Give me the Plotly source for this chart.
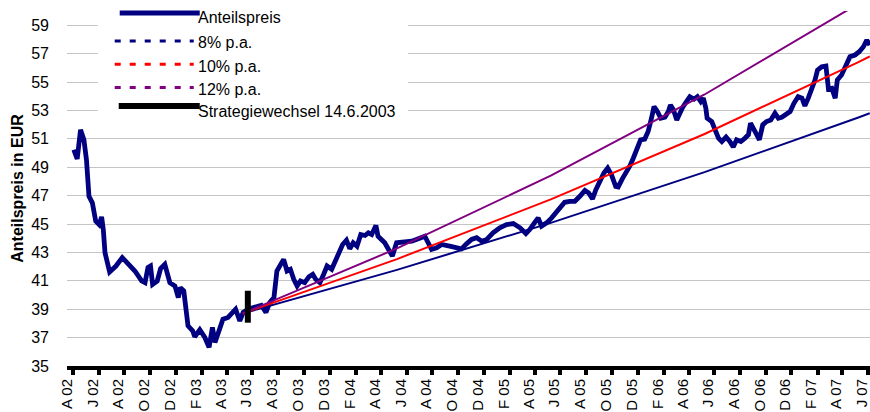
import plotly.graph_objects as go
from datetime import date, timedelta

# ---------------- data ----------------
price_dates = [
    "2002-04-17", "2002-04-25", "2002-05-03", "2002-05-11", "2002-05-17", "2002-05-23", "2002-05-31",
    "2002-06-08", "2002-06-16", "2002-06-22", "2002-06-26", "2002-06-30", "2002-07-11", "2002-07-26",
    "2002-08-10", "2002-08-24", "2002-09-09", "2002-09-25", "2002-10-03", "2002-10-10", "2002-10-16",
    "2002-10-21", "2002-11-01", "2002-11-09", "2002-11-19", "2002-12-01", "2002-12-13", "2002-12-21",
    "2002-12-26", "2003-01-03", "2003-01-13", "2003-01-24", "2003-01-29", "2003-02-10", "2003-02-22",
    "2003-03-04", "2003-03-12", "2003-03-18", "2003-03-28", "2003-04-06", "2003-04-18", "2003-04-26",
    "2003-05-06", "2003-05-16", "2003-05-24", "2003-06-05", "2003-06-25", "2003-07-06", "2003-07-17",
    "2003-07-26", "2003-08-05", "2003-08-12", "2003-08-21", "2003-08-28", "2003-09-05", "2003-09-13",
    "2003-09-21", "2003-09-29", "2003-10-07", "2003-10-17", "2003-10-27", "2003-11-05", "2003-11-12",
    "2003-11-22", "2003-12-01", "2003-12-09", "2003-12-20", "2003-12-27", "2004-01-07", "2004-01-15",
    "2004-01-24", "2004-02-01", "2004-02-09", "2004-02-18", "2004-02-27", "2004-03-08", "2004-03-16",
    "2004-03-24", "2004-04-03", "2004-04-08", "2004-04-16", "2004-04-24", "2004-05-02", "2004-05-12",
    "2004-05-22", "2004-06-03", "2004-06-15", "2004-06-27", "2004-07-08", "2004-07-18", "2004-07-28",
    "2004-08-05", "2004-08-13", "2004-08-25", "2004-09-06", "2004-09-25", "2004-10-11", "2004-10-23",
    "2004-11-04", "2004-11-16", "2004-11-28", "2004-12-10", "2004-12-22", "2005-01-06", "2005-01-22",
    "2005-02-07", "2005-02-23", "2005-03-11", "2005-03-25", "2005-04-03", "2005-04-15", "2005-04-23",
    "2005-05-01", "2005-05-13", "2005-05-25", "2005-06-06", "2005-06-18", "2005-06-25", "2005-07-07",
    "2005-07-19", "2005-07-31", "2005-08-12", "2005-08-21", "2005-08-30", "2005-09-07", "2005-09-17",
    "2005-09-26", "2005-10-05", "2005-10-14", "2005-10-24", "2005-10-30", "2005-11-09", "2005-11-19",
    "2005-11-27", "2005-12-05", "2005-12-13", "2005-12-22", "2006-01-01", "2006-01-09", "2006-01-17",
    "2006-01-23", "2006-01-31", "2006-02-08", "2006-02-18", "2006-02-26", "2006-03-03", "2006-03-10",
    "2006-03-18", "2006-03-25", "2006-04-02", "2006-04-10", "2006-04-18", "2006-04-28", "2006-05-06",
    "2006-05-14", "2006-05-20", "2006-05-26", "2006-05-29", "2006-06-09", "2006-06-17", "2006-06-25",
    "2006-07-03", "2006-07-13", "2006-07-22", "2006-07-30", "2006-08-07", "2006-08-17", "2006-08-27",
    "2006-09-04", "2006-09-09", "2006-09-16", "2006-09-24", "2006-09-30", "2006-10-08", "2006-10-17",
    "2006-10-27", "2006-11-06", "2006-11-14", "2006-11-22", "2006-12-02", "2006-12-12", "2006-12-21",
    "2006-12-31", "2007-01-09", "2007-01-16", "2007-01-24", "2007-02-01", "2007-02-09", "2007-02-15",
    "2007-02-25", "2007-03-07", "2007-03-13", "2007-03-21", "2007-03-29", "2007-04-03", "2007-04-13",
    "2007-04-24", "2007-05-03", "2007-05-15", "2007-05-25", "2007-06-04", "2007-06-12", "2007-06-19",
]
price_values = [
    50.23, 49.58, 51.63, 50.93, 49.53, 46.95, 46.49,
    45.20, 44.96, 45.50, 44.60, 42.98, 41.62, 42.04,
    42.63, 42.16, 41.69, 40.99, 40.87, 41.93, 42.04,
    40.75, 40.99, 41.86, 42.16, 40.87, 40.64, 39.82,
    40.52, 40.29, 37.83, 37.48, 37.06, 37.55, 37.01,
    36.31, 37.72, 36.66, 37.60, 38.30, 38.42, 38.65,
    39.00, 38.18, 38.77, 39.00, 39.23, 39.28, 38.77,
    39.47, 39.82, 41.69, 42.16, 42.51, 41.69, 41.81,
    41.11, 40.64, 40.99, 40.87, 41.29, 41.46, 41.11,
    40.87, 41.46, 42.04, 41.81, 42.28, 42.98, 43.56,
    43.86, 43.26, 43.68, 43.44, 44.26, 44.19, 44.38,
    44.26, 44.89, 44.14, 43.91, 43.68, 43.26, 42.74,
    43.68, 43.72, 43.68, 43.79, 43.91, 44.03, 44.14,
    43.68, 43.21, 43.33, 43.56, 43.44, 43.30, 43.25,
    43.60, 43.91, 44.03, 43.79, 43.91, 44.38, 44.73,
    44.96, 45.03, 44.73, 44.33, 44.61, 45.12, 45.43,
    44.85, 45.08, 45.43, 45.90, 46.37, 46.53, 46.60,
    46.60, 46.95, 47.37, 47.19, 46.77, 47.42, 48.12,
    48.59, 48.94, 48.47, 47.65, 47.61, 48.20, 48.65,
    49.10, 49.65, 50.30, 50.93, 50.98, 51.51, 52.45,
    53.27, 52.92, 52.45, 52.52, 52.92, 53.39, 53.04,
    52.33, 52.80, 53.27, 53.62, 53.97, 53.79, 53.97,
    53.62, 53.86, 53.16, 52.45, 52.22, 51.51, 51.05,
    50.81, 51.12, 50.81, 50.42, 50.93, 50.81, 51.05,
    51.28, 52.10, 51.63, 51.28, 50.93, 51.98, 52.22,
    52.33, 52.80, 52.45, 52.52, 52.68, 52.92, 53.50,
    53.97, 53.86, 53.32, 53.86, 54.44, 55.14, 55.84,
    56.07, 56.12, 54.50, 54.56, 53.86, 55.14, 55.49,
    56.19, 56.78, 56.90, 57.13, 57.48, 57.95, 57.60,
]

trend_dates = ["2003-05-23", "2004-05-23", "2005-05-23", "2006-05-23", "2007-05-23", "2007-06-19"]
trend_8 = [38.70, 41.77, 45.08, 48.65, 52.50, 52.80]
trend_10 = [38.70, 42.53, 46.73, 51.34, 56.40, 56.80]
trend_12 = [38.70, 43.28, 48.40, 54.12, 60.51, 61.03]

switch_date = "2003-06-04"
switch_range = [38.05, 40.30]

tick_months = [
    "2002-04-01", "2002-06-01", "2002-08-01", "2002-10-01", "2002-12-01",
    "2003-02-01", "2003-04-01", "2003-06-01", "2003-08-01", "2003-10-01", "2003-12-01",
    "2004-02-01", "2004-04-01", "2004-06-01", "2004-08-01", "2004-10-01", "2004-12-01",
    "2005-02-01", "2005-04-01", "2005-06-01", "2005-08-01", "2005-10-01", "2005-12-01",
    "2006-02-01", "2006-04-01", "2006-06-01", "2006-08-01", "2006-10-01", "2006-12-01",
    "2007-02-01", "2007-04-01", "2007-06-01",
]
tick_labels = [
    "A 02", "J 02", "A 02", "O 02", "D 02",
    "F 03", "A 03", "J 03", "A 03", "O 03", "D 03",
    "F 04", "A 04", "J 04", "A 04", "O 04", "D 04",
    "F 05", "A 05", "J 05", "A 05", "O 05", "D 05",
    "F 06", "A 06", "J 06", "A 06", "O 06", "D 06",
    "F 07", "A 07", "J 07",
]

legend_names = ["Anteilspreis", "8% p.a.", "10% p.a.", "12% p.a.", "Strategiewechsel 14.6.2003"]

# ---------------- styling ----------------
FONT = "Liberation Sans, Arial, sans-serif"
NAVY = "#000080"
RED = "#FF0000"
PURPLE = "#800080"

PLOT_L = 67.3
PLOT_W = 870 - PLOT_L
PLOT_T = 10.7
PLOT_B = 366
PLOT_H = PLOT_B - PLOT_T

x_range = ["2002-03-31 20:00", "2007-06-19 14:00"]
tick_marks = [(date.fromisoformat(m) + timedelta(days=14)).isoformat() for m in tick_months]

fig = go.Figure()

fig.add_trace(go.Scatter(x=price_dates, y=price_values, mode="lines",
                         line=dict(color=NAVY, width=4.8), name=legend_names[0],
                         hoverinfo="skip"))
fig.add_trace(go.Scatter(x=trend_dates, y=trend_8, mode="lines",
                         line=dict(color=NAVY, width=2), name=legend_names[1]))
fig.add_trace(go.Scatter(x=trend_dates, y=trend_10, mode="lines",
                         line=dict(color=RED, width=2), name=legend_names[2]))
fig.add_trace(go.Scatter(x=trend_dates, y=trend_12, mode="lines",
                         line=dict(color=PURPLE, width=2), name=legend_names[3]))
fig.add_trace(go.Scatter(x=[switch_date, switch_date], y=switch_range, mode="lines",
                         line=dict(color="black", width=6), name=legend_names[4]))
# dummy trace for the label axis
fig.add_trace(go.Scatter(x=[x_range[0]], y=[None], xaxis="x2", showlegend=False,
                         hoverinfo="skip", mode="lines"))

# ---------------- manual legend ----------------
def px_x(p):
    return (p - PLOT_L) / PLOT_W

def px_y(p):
    return (PLOT_B - p) / PLOT_H

shapes = [dict(type="rect", xref="paper", yref="paper",
               x0=px_x(98), x1=px_x(408), y0=px_y(116), y1=px_y(0),
               fillcolor="white", line=dict(width=0), layer="above")]
legend_styles = [
    dict(color=NAVY, width=5, dash="solid", y=12.7, x0=120, x1=200),
    dict(color=NAVY, width=3, dash="6px,9px", y=40.7, x0=115, x1=194),
    dict(color=RED, width=3, dash="6px,9px", y=64.0, x0=115, x1=194),
    dict(color=PURPLE, width=3, dash="6px,9px", y=87.3, x0=115, x1=194),
    dict(color="black", width=6, dash="solid", y=105.7, x0=119, x1=200),
]
text_y = [17.5, 42.5, 66.0, 89.0, 111.0]
annotations = []
for name, st, ty in zip(legend_names, legend_styles, text_y):
    shapes.append(dict(type="line", xref="paper", yref="paper",
                       x0=px_x(st["x0"]), x1=px_x(st["x1"]), y0=px_y(st["y"]), y1=px_y(st["y"]),
                       line=dict(color=st["color"], width=st["width"], dash=st["dash"]),
                       layer="above"))
    annotations.append(dict(xref="paper", yref="paper", x=px_x(196), y=px_y(ty),
                            text=name, showarrow=False, xanchor="left", yanchor="middle",
                            font=dict(family=FONT, size=16, color="black")))

fig.update_layout(
    width=870, height=412,
    margin=dict(l=PLOT_L, r=0, t=PLOT_T, b=412 - PLOT_B, autoexpand=False),
    paper_bgcolor="white", plot_bgcolor="white",
    showlegend=False,
    font=dict(family=FONT, color="black"),
    shapes=shapes,
    annotations=annotations,
    xaxis=dict(type="date", range=x_range, tickvals=tick_marks, showticklabels=False,
               ticks="outside", ticklen=5, tickwidth=3.5, tickcolor="black",
               showline=True, linewidth=3.5, linecolor="black",
               showgrid=False, zeroline=False, automargin=False),
    xaxis2=dict(type="date", range=x_range, overlaying="x", anchor="y", side="bottom",
                tickvals=tick_months, ticktext=tick_labels, tickangle=-90,
                ticks="", showline=False, showgrid=False, zeroline=False,
                ticklabelstandoff=9, automargin=False, ticklabeloverflow="allow",
                tickfont=dict(family=FONT, size=15, color="black")),
    yaxis=dict(range=[35, 60], tick0=35, dtick=2, showgrid=True, gridcolor="#c4c4c4",
               gridwidth=1, ticks="", showline=False, zeroline=False,
               ticklabelstandoff=17, automargin=False, ticklabeloverflow="allow",
               tickfont=dict(family=FONT, size=16, color="black"),
               title=dict(text="<b>Anteilspreis in EUR</b>", standoff=3,
                          font=dict(family=FONT, size=16, color="black"))),
)

fig.write_html("out.html", config={"displayModeBar": False},
               post_script="document.body.style.margin='0px';document.body.style.overflow='hidden';")
